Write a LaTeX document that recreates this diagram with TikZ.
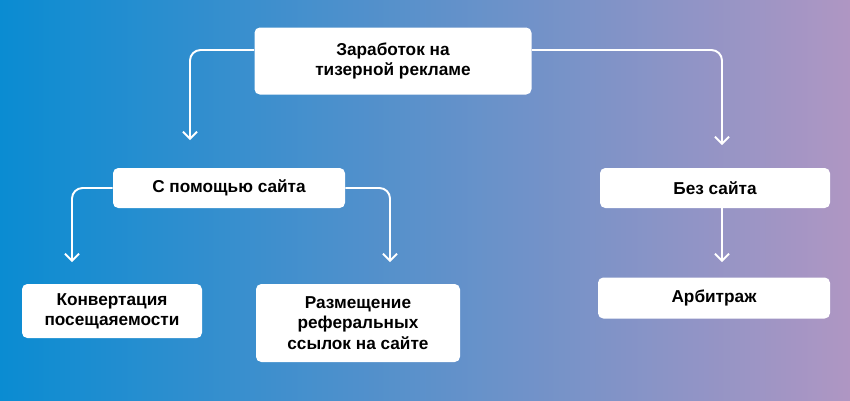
\documentclass[tikz,border=0pt]{standalone}
\usepackage{fontspec}
\setmainfont{Liberation Sans}
\usetikzlibrary{arrows.meta}
\begin{document}
\begin{tikzpicture}[
            x=0.02cm, y=-0.02cm,
            >={Straight Barb[length=4pt,width=8pt]},
            box/.style={fill=white, rounded corners=3pt, align=center, font=\fontsize{9.8}{11.5}\selectfont\bfseries},
            link/.style={->, draw=white, line width=1.1pt, rounded corners=6pt}
        ]
           \shade[left color={rgb,255:red,10;green,140;blue,210}, middle color={rgb,255:red,130;green,215;blue,225}, right color={rgb,255:red,175;green,150;blue,195}] (0,0) rectangle (850,400);
           \useasboundingbox (0,0) rectangle (850,400);

           \node[box, minimum width=277*0.02cm, minimum height=67*0.02cm] (top) at (393,61) {Заработок на\\тизерной рекламе};

           \node[box, minimum width=232*0.02cm, minimum height=40*0.02cm] (site) at (229,188) {С помощью сайта};
           \node[box, minimum width=230*0.02cm, minimum height=40*0.02cm] (nosite) at (715,188) {Без сайта};

           \node[box, minimum width=180*0.02cm, minimum height=54*0.02cm] (conv) at (112,311) {Конвертация\\посещаяемости};
           \node[box, minimum width=204*0.02cm, minimum height=78*0.02cm] (ref) at (358,323) {Размещение\\реферальных\\ссылок на сайте};
           \node[box, minimum width=232*0.02cm, minimum height=41*0.02cm] (arb) at (714,298) {Арбитраж};

           \draw[link] (top.west |- 0,50) -| (190,140);
           \draw[link] (top.east |- 0,50) -| (722,145);
           \draw[link] (site.west) -| (72,262);
           \draw[link] (site.east) -| (390,262);
           \draw[link] (nosite.south -| 722,0) -- (722,262);
        \end{tikzpicture}
\end{document}
